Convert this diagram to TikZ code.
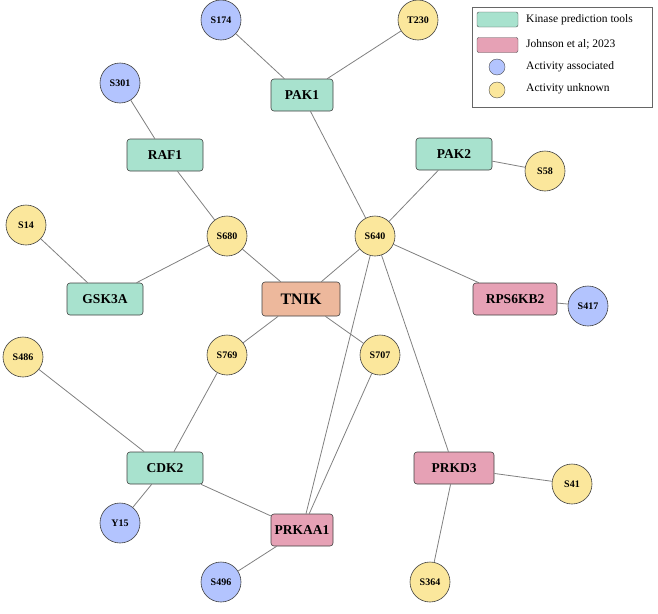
\documentclass[tikz,border=0pt]{standalone}
\usepackage{fontspec}
\setmainfont{Liberation Serif}
\begin{document}
\begin{tikzpicture}[x=1pt,y=-1pt,
  kin/.style={draw=black!75, rounded corners=3pt, minimum height=32pt, font=\fontsize{13.5}{15}\selectfont\bfseries, inner sep=2pt, line width=0.6pt},
  kpt/.style={kin, fill=kgreen},
  jon/.style={kin, fill=kpink},
  site/.style={circle, draw=black!75, minimum size=40pt, inner sep=0pt, font=\fontsize{10}{11}\selectfont\bfseries, line width=0.6pt},
  assoc/.style={site, fill=kblue},
  unk/.style={site, fill=kyellow},
  edge/.style={draw=black!50, line width=0.8pt},
  legtxt/.style={anchor=west, font=\fontsize{11.5}{13}\selectfont, inner sep=0pt}
]
\definecolor{kgreen}{HTML}{A8E2CE}
\definecolor{kpink}{HTML}{E6A1B5}
\definecolor{kblue}{HTML}{B3C4FE}
\definecolor{kyellow}{HTML}{FBE79C}
\definecolor{ktnik}{HTML}{EDB89C}
\useasboundingbox (0,0) rectangle (658,613);

% kinases
\node[kpt, minimum width=62pt] (PAK1) at (302,95) {PAK1};
\node[kpt, minimum width=76pt] (RAF1) at (165,155) {RAF1};
\node[kpt, minimum width=76pt] (PAK2) at (454,154) {PAK2};
\node[kpt, minimum width=76pt] (GSK3A) at (105,299) {GSK3A};
\node[kin, fill=ktnik, minimum width=78pt, minimum height=34pt, font=\fontsize{16}{18}\selectfont\bfseries] (TNIK) at (301,299) {TNIK};
\node[jon, minimum width=84pt] (RPS6KB2) at (515,299) {RPS6KB2};
\node[kpt, minimum width=76pt] (CDK2) at (165,468) {CDK2};
\node[jon, minimum width=80pt] (PRKD3) at (454,468) {PRKD3};
\node[jon, minimum width=62pt] (PRKAA1) at (302,530) {PRKAA1};

% sites
\node[assoc] (S174) at (221,20) {S174};
\node[unk] (T230) at (418,20) {T230};
\node[assoc] (S301) at (120,83) {S301};
\node[unk] (S58) at (545,171) {S58};
\node[unk] (S14) at (26,225) {S14};
\node[unk] (S680) at (227,236) {S680};
\node[unk] (S640) at (375,236) {S640};
\node[assoc] (S417) at (588,306) {S417};
\node[unk] (S769) at (227,355) {S769};
\node[unk] (S707) at (380,355) {S707};
\node[unk] (S486) at (23,357) {S486};
\node[unk] (S41) at (572,484) {S41};
\node[assoc] (Y15) at (120,523) {Y15};
\node[unk] (S364) at (430,582) {S364};
\node[assoc] (S496) at (221,582) {S496};

% edges
\foreach \a/\b in {S174/PAK1, T230/PAK1, PAK1/S640, S301/RAF1, RAF1/S680, PAK2/S58, PAK2/S640,
  S14/GSK3A, GSK3A/S680, S680/TNIK, S640/TNIK, S640/RPS6KB2, RPS6KB2/S417, S640/PRKAA1,
  S640/PRKD3, TNIK/S769, TNIK/S707, S769/CDK2, S707/PRKAA1, S486/CDK2, CDK2/Y15,
  CDK2/PRKAA1, PRKAA1/S496, PRKD3/S41, PRKD3/S364}
  \draw[edge] (\a) -- (\b);

% legend
\node[draw=black!60, line width=0.6pt, minimum width=180pt, minimum height=100pt, inner sep=0pt] (LEG) at (562,57) {};
\node[draw=black!70, fill=kgreen, rounded corners=2pt, minimum width=41pt, minimum height=15pt, inner sep=0pt] (L1) at (497.5,19.5) {};
\node[draw=black!70, fill=kpink, rounded corners=2pt, minimum width=41pt, minimum height=15pt, inner sep=0pt] (L2) at (497.5,45) {};
\node[circle, draw=black!70, fill=kblue, minimum size=16pt, inner sep=0pt] (L3) at (497,67) {};
\node[circle, draw=black!70, fill=kyellow, minimum size=16pt, inner sep=0pt] (L4) at (497,90) {};
\node[legtxt] (T1) at (526,19.5) {Kinase prediction tools};
\node[legtxt] (T2) at (526,44) {Johnson et al; 2023};
\node[legtxt] (T3) at (526,67) {Activity associated};
\node[legtxt] (T4) at (526,89) {Activity unknown};
\end{tikzpicture}
\end{document}
